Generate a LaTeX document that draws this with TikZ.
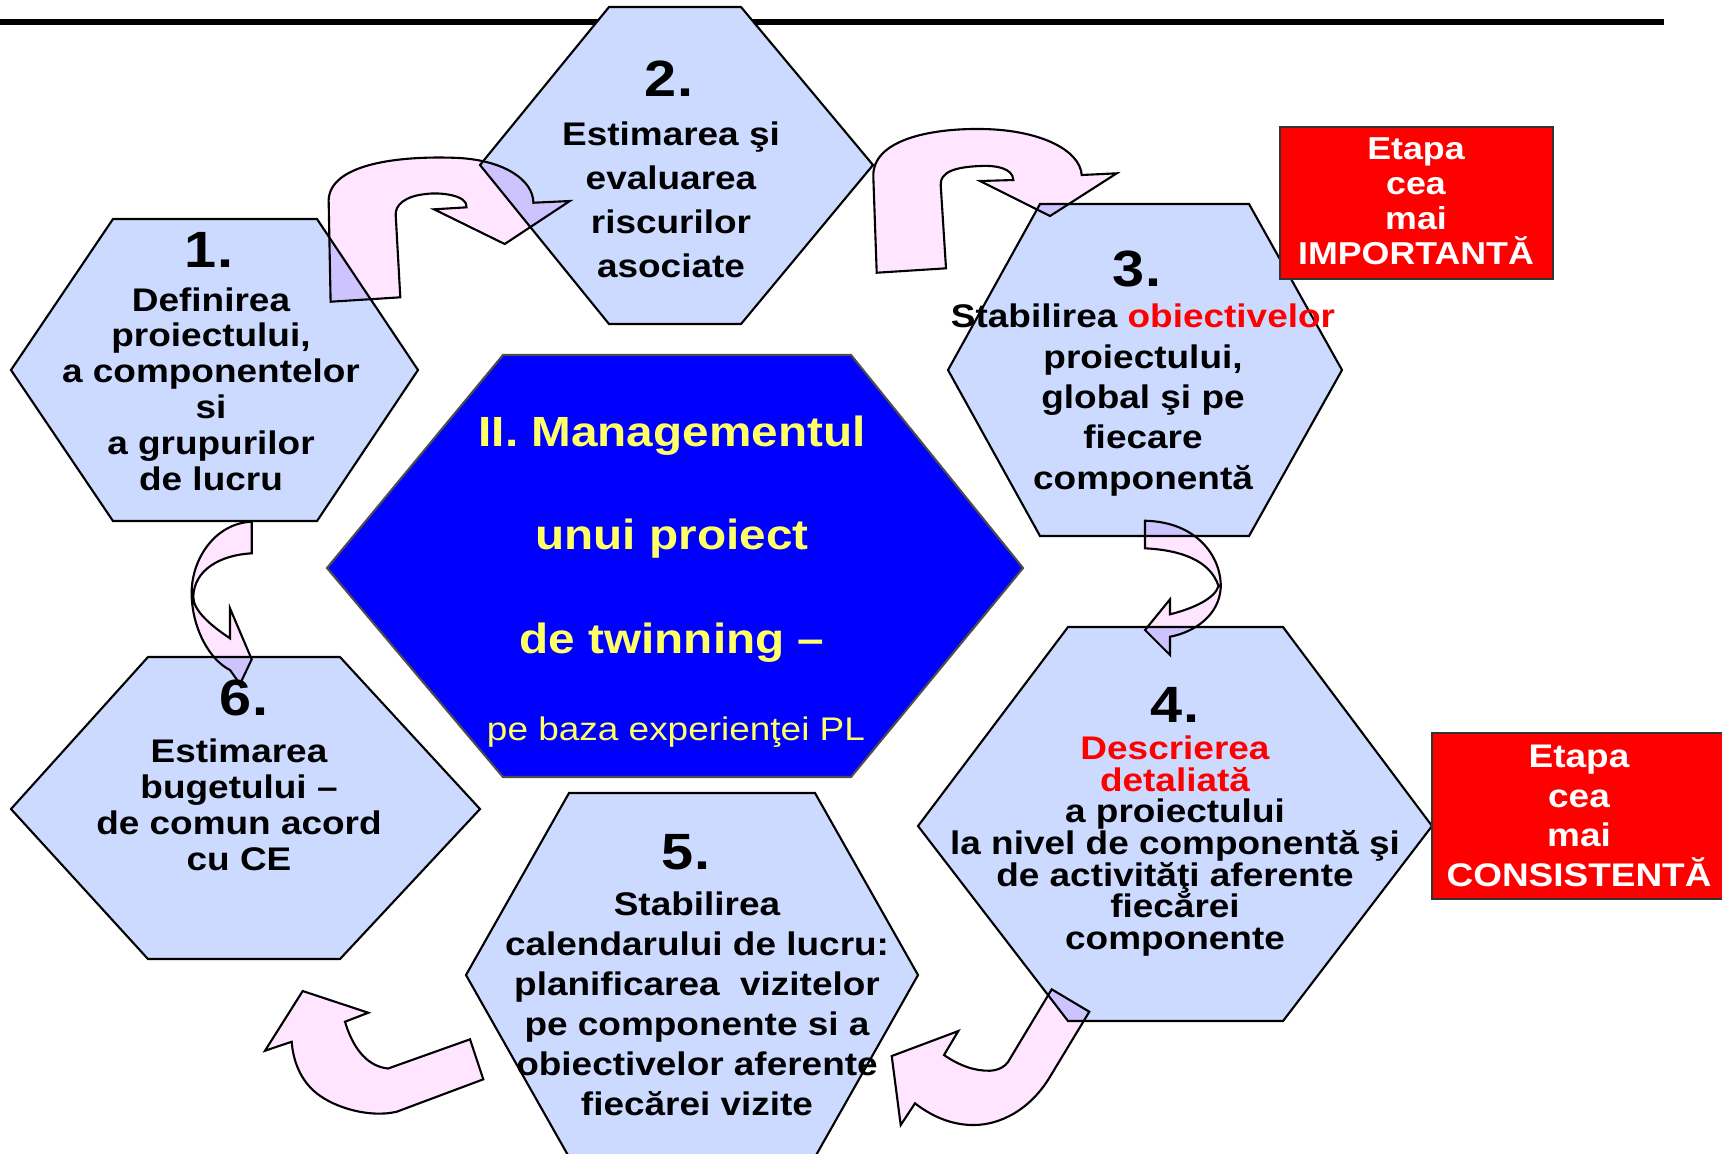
\documentclass[tikz,border=0pt]{standalone}
\usepackage{fontspec}
\setmainfont{Liberation Sans}[FakeStretch=1.13]
\definecolor{hexblue}{RGB}{204,218,255}
\definecolor{arrowpink}{RGB}{255,229,255}
\definecolor{titleyellow}{RGB}{255,255,102}
\begin{document}
\begin{tikzpicture}[x=0.01cm,y=-0.01cm,
  hexbox/.style={draw=black, line width=0.6pt, fill=hexblue},
  turnarrow/.style={draw=black, line width=0.6pt, fill=arrowpink},
  stepnum/.style={font=\fontsize{14.5}{16}\selectfont\bfseries, inner sep=0pt},
  steptext/.style={align=center, inner sep=0pt},
  notebox/.style={draw=black!80, line width=0.6pt, fill=red}]
  \useasboundingbox (0,0) rectangle (1722,1153);
  % Linie sub titlu
  \draw[line width=1.5pt] (0,22) -- (1664,22);
  % Hexagoane etape
  \draw[hexbox] (113,219) -- (317,219) -- (418,370) -- (317,521) -- (113,521) -- (11,370) -- cycle;
  \draw[hexbox] (609,7) -- (741,7) -- (873,165) -- (741,324) -- (609,324) -- (480,165) -- cycle;
  \draw[hexbox] (1040,204) -- (1249,204) -- (1342,370) -- (1249,536) -- (1040,536) -- (948,370) -- cycle;
  \draw[hexbox] (1068,627) -- (1283,627) -- (1432,826) -- (1283,1021) -- (1068,1021) -- (918,826) -- cycle;
  \draw[hexbox] (569,793) -- (815,793) -- (918,975) -- (815,1157) -- (569,1157) -- (466,975) -- cycle;
  \draw[hexbox] (148,657) -- (340,657) -- (480,809) -- (340,959) -- (148,959) -- (11,809) -- cycle;
  % Hexagon central
  \draw[draw=black!70, line width=0.6pt, fill=blue] (503,355) -- (851,355) -- (1023,568) -- (851,777) -- (503,777) -- (327,568) -- cycle;
  % Sageti curbe
  \begin{scope}[blend mode=multiply]
    % 1 -> 2
    \draw[turnarrow] (330.6,301.7) -- (328.7,203.3) .. controls (326,165) and (395,155) .. (460,158)
      .. controls (505,161) and (533,180) .. (533.4,202.7) -- (569.8,201) -- (504.7,244) -- (434,209.3)
      -- (466.5,207.3) .. controls (468,195) and (440,192) .. (426,194)
      .. controls (405,196) and (395,205) .. (395.7,215) -- (400.3,297.3) -- cycle;
    % 2 -> 3
    \draw[turnarrow] (876.7,272.7) -- (873.3,176.7) .. controls (872,140) and (930,128) .. (983,129)
      .. controls (1040,130) and (1080,150) .. (1081.7,175) -- (1116.7,173.3) -- (1050,216) -- (980,181)
      -- (1013.3,180) .. controls (1013,168) and (995,165) .. (980,166)
      .. controls (955,167) and (940,172) .. (940.7,185) -- (946,268.3) -- cycle;
    % 3 -> 4
    \draw[turnarrow] (1145,520.7) .. controls (1200,522) and (1222,560) .. (1220.7,588)
      .. controls (1219,615) and (1195,632) .. (1170,636.7) -- (1170,655) -- (1145,630) -- (1170,599.3)
      -- (1170,614.3) .. controls (1195,608) and (1215,598) .. (1218.5,586)
      .. controls (1210,560) and (1180,550) .. (1145,548.3) -- cycle;
    % 4 -> 5
    \draw[turnarrow] (1051.7,989.3) -- (1089.3,1011.7) -- (1050,1076.7) .. controls (1030,1110) and (1000,1125) .. (973.3,1125)
      .. controls (950,1125) and (930,1115) .. (915,1103.3) -- (900.7,1125) -- (891.7,1056) -- (958.3,1031)
      -- (944,1055) .. controls (960,1066) and (975,1071) .. (990,1070.7)
      .. controls (1000,1070) and (1005,1066) .. (1008,1062) -- cycle;
    % 5 -> 6
    \draw[turnarrow] (470,1039.3) -- (483.3,1079.3) -- (396.7,1111.7) .. controls (370,1118) and (335,1108) .. (316.7,1093.3)
      .. controls (300,1080) and (293,1060) .. (291.7,1041.7) -- (265,1050.7) -- (302.7,991) -- (368.3,1012.7)
      -- (345,1021.7) .. controls (352,1045) and (365,1066) .. (388,1068.5) -- cycle;
    % 1 -> 6
    \draw[turnarrow] (251.7,521.7) .. controls (215,523) and (190,560) .. (191.7,596.7)
      .. controls (193,630) and (210,660) .. (230,670) -- (240,684) -- (251.7,659.3) -- (230,608.3)
      -- (230,638.3) .. controls (210,625) and (193,610) .. (193.3,596.7)
      .. controls (194,570) and (220,555) .. (251.7,553.3) -- cycle;
  \end{scope}
  % Etapa 1
  \node[stepnum] (n1) at (209,250) {1.};
  \node[steptext, font=\fontsize{9.3}{10.2}\selectfont\bfseries] (t1) at (211,389)
    {Definirea\\proiectului,\\a componentelor\\si\\a grupurilor\\de lucru};
  % Etapa 2
  \node[stepnum] (n2) at (669,79) {2.};
  \node[steptext, font=\fontsize{9.3}{12.5}\selectfont\bfseries] (t2) at (671,200)
    {Estimarea şi\\evaluarea\\riscurilor\\ asociate};
  % Etapa 3
  \node[stepnum] (n3) at (1137,269) {3.};
  \node[steptext, font=\fontsize{9.3}{11.5}\selectfont\bfseries] (t3) at (1143,400)
    {Stabilirea \textcolor{red}{obiectivelor}\\proiectului,\\global şi pe\\fiecare\\componentă};
  % Etapa 4
  \node[stepnum] (n4) at (1175,705) {4.};
  \node[steptext, font=\fontsize{9.3}{9}\selectfont\bfseries] (t4) at (1175,846)
    {\textcolor{red}{Descrierea}\\\textcolor{red}{detaliată}\\a proiectului\\la nivel de componentă şi\\de activităţi aferente\\fiecărei\\componente};
  % Etapa 5
  \node[stepnum] (n5) at (686,852) {5.};
  \node[steptext, font=\fontsize{9.3}{11.4}\selectfont\bfseries] (t5) at (697,1004)
    {Stabilirea\\calendarului de lucru:\\planificarea\ \ vizitelor\\pe componente si a\\obiectivelor aferente\\fiecărei vizite};
  % Etapa 6
  \node[stepnum] (n6) at (244,698) {6.};
  \node[steptext, font=\fontsize{9.3}{10.2}\selectfont\bfseries] (t6) at (239,805)
    {Estimarea\\bugetului --\\de comun acord\\cu CE};
  % Titlu central
  \node[steptext, text=titleyellow, font=\fontsize{12}{29.5}\selectfont\bfseries] (center) at (672,539)
    {II. Managementul\\unui proiect\\de twinning --};
  \node[steptext, text=titleyellow, font=\fontsize{9.3}{11}\selectfont] (sub) at (676,732)
    {pe baza experienţei PL};
  % Casete rosii
  \draw[notebox] (1280,127) rectangle (1553,279);
  \node[steptext, text=white, font=\fontsize{9}{10}\selectfont\bfseries] (imp) at (1416,201)
    {Etapa\\cea\\mai\\IMPORTANTĂ};
  \draw[notebox] (1432,733) rectangle (1726,899);
  \node[steptext, text=white, font=\fontsize{9.3}{11.3}\selectfont\bfseries] (cons) at (1579,816)
    {Etapa\\cea\\mai\\CONSISTENTĂ};
\end{tikzpicture}
\end{document}
